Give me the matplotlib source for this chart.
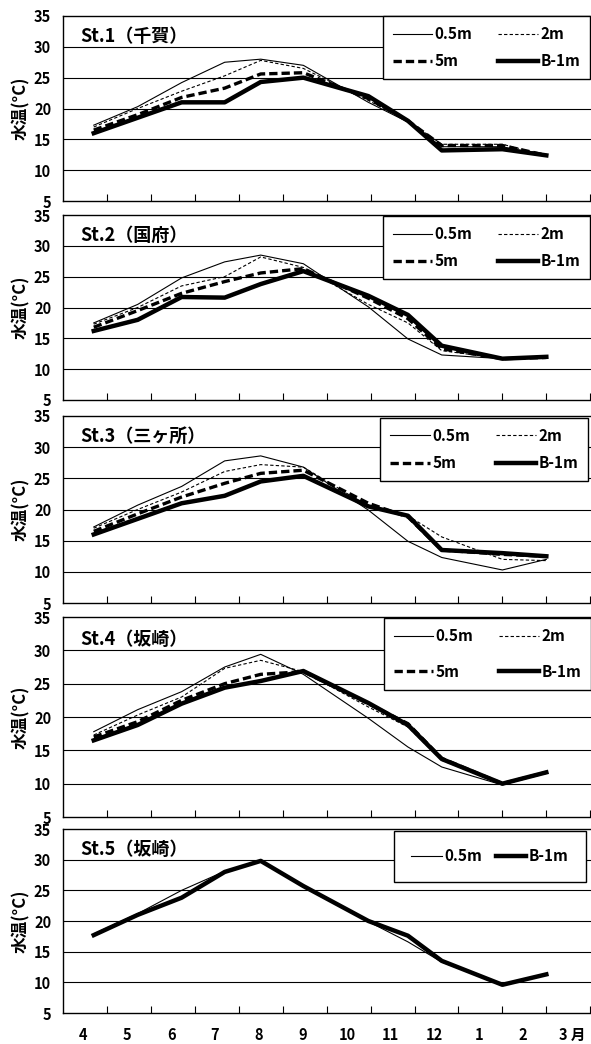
import numpy as np
import matplotlib.pyplot as plt

plt.rcParams['font.family'] = ['Noto Sans CJK JP', 'DejaVu Sans']

# survey dates, in months counted from 1 April
days = [0.7, 1.7, 2.7, 3.68, 4.5, 5.47, 6.95, 7.85, 8.62, 10.0, 11.0]
month_labels = ['4', '5', '6', '7', '8', '9', '10', '11', '12', '1', '2', '3 月']
yticks = [5, 10, 15, 20, 25, 30, 35]

st1_05 = [17.3, 20.3, 24.2, 27.5, 28.0, 27.0, 21.0, 17.8, 13.8, 13.8, 12.3]
st1_2 = [17.0, 20.0, 22.8, 25.3, 27.8, 26.5, 21.3, 18.0, 14.2, 14.2, 12.4]
st1_5 = [16.5, 19.0, 21.8, 23.3, 25.6, 25.8, 21.6, 18.0, 14.0, 14.0, 12.4]
st1_b = [16.0, 18.5, 21.0, 21.0, 24.3, 25.0, 22.0, 18.0, 13.2, 13.4, 12.4]

st2_05 = [17.5, 20.5, 24.8, 27.4, 28.5, 27.1, 20.1, 14.9, 12.3, 11.7, 11.8]
st2_2 = [17.3, 20.0, 23.5, 25.0, 28.2, 26.5, 20.5, 17.5, 13.0, 11.7, 11.8]
st2_5 = [16.8, 19.5, 22.3, 24.2, 25.6, 26.3, 21.5, 18.2, 13.3, 11.7, 11.9]
st2_b = [16.2, 18.0, 21.7, 21.6, 23.8, 25.9, 21.9, 18.8, 13.8, 11.7, 12.0]

st3_05 = [17.2, 20.7, 23.7, 27.8, 28.6, 26.8, 19.9, 14.9, 12.3, 10.3, 12.0]
st3_2 = [17.0, 20.0, 22.8, 26.1, 27.2, 26.8, 20.5, 19.0, 15.6, 12.0, 11.8]
st3_5 = [16.5, 19.3, 22.0, 24.2, 25.8, 26.3, 21.0, 18.8, 13.5, 12.8, 12.5]
st3_b = [16.0, 18.5, 21.0, 22.2, 24.5, 25.4, 20.5, 19.0, 13.5, 13.0, 12.5]

st4_05 = [17.8, 21.1, 23.8, 27.5, 29.4, 26.4, 19.8, 15.5, 12.5, 9.8, 11.7]
st4_2 = [17.3, 20.3, 23.0, 27.3, 28.5, 26.8, 21.5, 18.5, 13.5, 10.0, 11.7]
st4_5 = [17.0, 19.3, 22.5, 25.0, 26.4, 26.8, 22.0, 19.0, 13.8, 10.0, 11.7]
st4_b = [16.5, 18.8, 22.0, 24.4, 25.4, 26.9, 22.1, 18.8, 13.7, 10.0, 11.7]

st5_05 = [17.9, 21.2, 25.0, 28.1, 29.8, 25.7, 19.9, 16.6, 13.3, 9.6, 11.2]
st5_b = [17.7, 21.0, 23.8, 28.0, 29.8, 25.7, 20.0, 17.6, 13.5, 9.6, 11.3]

stations = [
    ('St.1（千賀）', {'0.5m': st1_05, '2m': st1_2, '5m': st1_5, 'B-1m': st1_b}),
    ('St.2（国府）', {'0.5m': st2_05, '2m': st2_2, '5m': st2_5, 'B-1m': st2_b}),
    ('St.3（三ヶ所）', {'0.5m': st3_05, '2m': st3_2, '5m': st3_5, 'B-1m': st3_b}),
    ('St.4（坂崎）', {'0.5m': st4_05, '2m': st4_2, '5m': st4_5, 'B-1m': st4_b}),
    ('St.5（坂崎）', {'0.5m': st5_05, 'B-1m': st5_b}),
]

styles = {
    '0.5m': dict(color='black', lw=0.8, ls='-'),
    '2m': dict(color='black', lw=0.8, ls=(0, (3, 2))),
    '5m': dict(color='black', lw=2.4, ls=(0, (2.5, 1.2))),
    'B-1m': dict(color='black', lw=3.2, ls='-'),
}

W, H = 591, 1044
fig = plt.figure(figsize=(W / 100, H / 100), dpi=100)

# panel top/bottom in pixels
panels = [(16, 201), (215, 400), (416, 603), (617, 817), (829, 1013)]
leg_anchor = [(0.998, 1.0), (0.998, 0.995), (0.994, 0.99), (1.0, 0.995), (0.99, 0.99)]
leg_spacing = [0.75, 0.75, 0.75, 1.3, 0.5]
left = 63
month_px = 43.94

for i, ((title, series), (top, bot)) in enumerate(zip(stations, panels)):
    ax = fig.add_axes([left / W, 1 - bot / H, 1 - left / W, (bot - top) / H])
    handles = {}
    for name, vals in series.items():
        ln, = ax.plot(days, vals, label=name, **styles[name])
        handles[name] = ln
    ax.set_xlim(0, (W - left) / month_px)
    ax.set_ylim(5, 35)
    ax.set_yticks(yticks)
    ax.set_yticklabels([str(v) for v in yticks], fontsize=10.5, fontweight='bold')
    ax.tick_params(axis='y', length=0, pad=8.5)
    for v in yticks[1:-1]:
        ax.axhline(v, color='black', lw=0.8, zorder=0)
    ax.set_xticks(np.arange(1, 13))
    ax.tick_params(axis='x', which='major', direction='in', length=5, width=0.8, labelbottom=False)
    ax.spines['right'].set_visible(False)
    for s in ['left', 'bottom', 'top']:
        ax.spines[s].set_linewidth(1.0)
    ax.set_ylabel('水温(°C)', fontsize=12, fontweight='bold', labelpad=3)
    ax.text(0.033, 0.89, title, transform=ax.transAxes, fontsize=13,
            fontweight='bold', va='center', ha='left')

    if len(series) == 4:
        order = ['0.5m', '5m', '2m', 'B-1m']
        hl, bp, cs = 2.6, 0.65, 1.7
    else:
        order = ['0.5m', 'B-1m']
        hl, bp, cs = 2.0, 1.15, 0.9
    leg = ax.legend([handles[k] for k in order], order, ncol=2,
                    loc='upper right', bbox_to_anchor=leg_anchor[i],
                    borderaxespad=0, fancybox=False, framealpha=1,
                    edgecolor='black', handlelength=hl, handletextpad=0.15,
                    columnspacing=cs, labelspacing=leg_spacing[i],
                    borderpad=bp, prop={'size': 11, 'weight': 'bold'})
    leg.get_frame().set_linewidth(1.0)

    if i == 4:
        ax.set_xticks(list(np.arange(11) + 0.46) + [11.6], minor=True)
        ax.set_xticklabels(month_labels, minor=True, fontsize=10.5, fontweight='bold')
        ax.tick_params(axis='x', which='minor', length=0, pad=10)

fig.savefig('out.png', dpi=100)
